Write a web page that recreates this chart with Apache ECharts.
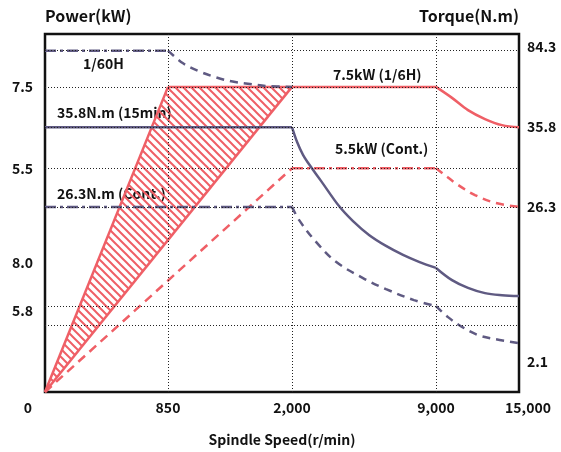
<!DOCTYPE html>
<html>
<head>
<meta charset="utf-8">
<script src="https://cdn.jsdelivr.net/npm/echarts@6.0.0/dist/echarts.min.js"></script>
<style>
html,body{margin:0;padding:0;background:#fff;}
#chart{width:561px;height:452px;}
</style>
</head>
<body>
<div id="chart"></div>
<script>
// ---------------- DATA ----------------
// x axis: spindle speed (r/min), drawn on a schematic (piecewise) scale
const xTickSpeeds = [0, 850, 2000, 9000, 15000];
const xTickLabels = ['0', '850', '2,000', '9,000', '15,000'];

// y axis tick labels (as printed in the original)
const leftTickVals = [7.5, 5.5, 3.17, 1.99];
const leftTickLabels = ['7.5', '5.5', '8.0', '5.8'];
const rightTickVals = [8.48, 6.51, 4.55, 0.74];
const rightTickLabels = ['84.3', '35.8', '26.3', '2.1'];

// dotted reference grid levels
const hGridVals = [8.39, 7.5, 6.51, 5.5, 4.55, 2.12, 1.63];
const vGridSpeeds = [850, 2000, 9000];

// Power curves [speed, level]
const powerMaxRise = [[0, 0], [850, 7.5]];
const powerMaxFlat = [[850, 7.5], [9000, 7.5]];
const powerMaxFall = [[9000, 7.5], [10157, 7.23], [11313, 6.93], [12542, 6.71], [13771, 6.56], [15000, 6.51]];
const powerHatch = [[0, 0], [850, 7.5], [2000, 7.5]];
const powerHatchEdge = [[0, 0], [2000, 7.5]];
const powerContRise = [[0, 0], [2000, 5.5]];
const powerContFlat = [[2000, 5.5], [9000, 5.5]];
const powerContFall = [[9000, 5.5], [9651, 5.33], [10590, 5.09], [11819, 4.84], [13265, 4.65], [15000, 4.55]];

// Torque curves [speed, level]
const torquePeakFlat = [[0, 8.39], [850, 8.39]];
const torquePeakFall = [[850, 8.39], [990, 8.08], [1150, 7.87], [1300, 7.73], [1450, 7.63], [1610, 7.57], [1770, 7.52], [2000, 7.5]];
const torque15Flat = [[0, 6.51], [2000, 6.51]];
const torque15Fall1 = [[2000, 6.51], [2243, 6.15], [2535, 5.83], [2924, 5.53], [3410, 5.19], [4285, 4.57], [4965, 4.20], [5743, 3.86], [6569, 3.59], [7396, 3.37], [8173, 3.20], [9000, 3.05]];
const torque15Fall2 = [[9000, 3.05], [10157, 2.75], [11313, 2.56], [12542, 2.43], [13771, 2.38], [15000, 2.36]];
const torqueContFlat = [[0, 4.55], [2000, 4.55]];
const torqueContFall1 = [[2000, 4.55], [2340, 4.23], [3167, 3.69], [4139, 3.20], [5451, 2.80], [6569, 2.53], [7930, 2.26], [9000, 2.11]];
const torqueContFall2 = [[9000, 2.11], [9867, 1.84], [10880, 1.60], [12036, 1.40], [13265, 1.30], [15000, 1.20]];

// ---------------- LAYOUT / STYLE ----------------
const segWidths = [123, 124, 144, 83]; // drawn widths of the speed intervals
const segStart = [0];
segWidths.forEach((w, i) => segStart.push(segStart[i] + w));
const xAxisMax = segStart[segStart.length - 1];
function toX(rpm) {
  for (let i = 0; i < xTickSpeeds.length - 1; i++) {
    const a = xTickSpeeds[i], b = xTickSpeeds[i + 1];
    if (rpm <= b || i === xTickSpeeds.length - 2) {
      return segStart[i] + (rpm - a) / (b - a) * segWidths[i];
    }
  }
}
const conv = arr => arr.map(p => [toX(p[0]), p[1]]);

const RED = '#ef5f66';
const PURPLE = '#5f5a82';
const FONT = "'Noto Sans CJK KR', 'Noto Sans', sans-serif";
const TXT = '#111';
const DASH = [8, 6];
const DASHDOT = [11, 4, 3, 4];
const FW = 'bold';

// hatch pattern
const hatch = document.createElement('canvas');
hatch.width = 8; hatch.height = 8;
(function () {
  const c = hatch.getContext('2d');
  c.strokeStyle = RED; c.lineWidth = 2; c.lineCap = 'square';
  [-8, 0, 8].forEach(k => { c.beginPath(); c.moveTo(k, 0); c.lineTo(k + 8, 8); c.stroke(); });
})();

function lineSeries(data, color, type, smooth) {
  return {
    type: 'line', data: conv(data), showSymbol: false, symbol: 'none',
    smooth: smooth ? 0.35 : false, z: 4, silent: true,
    lineStyle: { color: color, width: 2.5, type: type, cap: 'butt' }
  };
}

const chart = echarts.init(document.getElementById('chart'), null, { renderer: 'canvas' });

function labelMap(vals, labels) {
  return v => {
    for (let i = 0; i < vals.length; i++) if (Math.abs(vals[i] - v) < 1e-6) return labels[i];
    return '';
  };
}
const xLabelVals = xTickSpeeds.map(toX);

const option = {
  animation: false,
  backgroundColor: '#fff',
  textStyle: { fontFamily: FONT },
  grid: { left: 45, top: 34, width: 474, height: 358, show: true, borderColor: '#111', borderWidth: 2.5, backgroundColor: 'transparent' },
  xAxis: {
    type: 'value', min: 0, max: xAxisMax,
    axisLine: { show: false }, axisTick: { show: false }, splitLine: { show: false },
    axisLabel: {
      customValues: xLabelVals, margin: 9, color: TXT, fontSize: 14, fontFamily: FONT, fontWeight: FW,
      formatter: v => {
        const t = labelMap(xLabelVals, xTickLabels)(v);
        if (v === xLabelVals[0]) return '{l|' + t + '}';
        if (v === xLabelVals[xLabelVals.length - 1]) return '{r|' + t + '}';
        return t;
      },
      rich: {
        l: { padding: [0, 34, 0, 0], fontSize: 14, fontFamily: FONT, fontWeight: FW, color: TXT },
        r: { padding: [0, 0, 0, 18], fontSize: 14, fontFamily: FONT, fontWeight: FW, color: TXT }
      }
    }
  },
  yAxis: [
    {
      type: 'value', min: 0, max: 8.8, position: 'left',
      axisLine: { show: false }, axisTick: { show: false }, splitLine: { show: false },
      axisLabel: { customValues: leftTickVals, formatter: labelMap(leftTickVals, leftTickLabels), margin: 12, color: TXT, fontSize: 14, fontFamily: FONT, fontWeight: FW }
    },
    {
      type: 'value', min: 0, max: 8.8, position: 'right',
      axisLine: { show: false }, axisTick: { show: false }, splitLine: { show: false },
      axisLabel: { customValues: rightTickVals, formatter: labelMap(rightTickVals, rightTickLabels), margin: 8, color: TXT, fontSize: 14, fontFamily: FONT, fontWeight: FW }
    }
  ],
  series: [
    {
      type: 'line', data: [], z: 1, silent: true,
      markLine: {
        silent: true, symbol: 'none', label: { show: false },
        lineStyle: { color: '#222', width: 1, type: [1, 2] },
        data: hGridVals.map(v => ({ yAxis: v })).concat(vGridSpeeds.map(s => ({ xAxis: toX(s) })))
      }
    },
    {
      type: 'custom', z: 2, silent: true,
      data: conv(powerHatch),
      renderItem: function (params, api) {
        if (params.dataIndex !== 0) return null;
        const pts = conv(powerHatch).map(p => api.coord(p));
        return { type: 'polygon', shape: { points: pts }, style: { fill: { image: hatch, repeat: 'repeat' } } };
      }
    },
    lineSeries(powerMaxRise, RED, 'solid', false),
    lineSeries(powerMaxFlat, RED, 'solid', false),
    lineSeries(powerMaxFall, RED, 'solid', true),
    lineSeries(powerHatchEdge, RED, 'solid', false),
    lineSeries(powerContRise, RED, [9, 6], false),
    lineSeries(powerContFlat, RED, DASHDOT, false),
    lineSeries(powerContFall, RED, DASH, true),
    lineSeries(torquePeakFlat, PURPLE, DASHDOT, false),
    lineSeries(torquePeakFall, PURPLE, DASH, true),
    lineSeries(torque15Flat, PURPLE, 'solid', false),
    lineSeries(torque15Fall1, PURPLE, 'solid', true),
    lineSeries(torque15Fall2, PURPLE, 'solid', true),
    lineSeries(torqueContFlat, PURPLE, DASHDOT, false),
    lineSeries(torqueContFall1, PURPLE, DASH, true),
    lineSeries(torqueContFall2, PURPLE, DASH, true)
  ],
  graphic: [
    { type: 'text', left: 45, top: 8, style: { text: 'Power(kW)', font: FW + ' 16px ' + FONT, fill: TXT } },
    { type: 'text', right: 42, top: 8, style: { text: 'Torque(N.m)', font: FW + ' 16px ' + FONT, fill: TXT } },
    { type: 'text', x: 282, y: 440, style: { text: 'Spindle Speed(r/min)', font: FW + ' 14px ' + FONT, fill: TXT, align: 'center', verticalAlign: 'middle' } },
    { type: 'text', x: 83, y: 64, style: { text: '1/60H', font: FW + ' 14px ' + FONT, fill: TXT, verticalAlign: 'middle' } },
    { type: 'text', x: 57, y: 113, style: { text: '35.8N.m (15min)', font: FW + ' 14px ' + FONT, fill: TXT, verticalAlign: 'middle' } },
    { type: 'text', x: 333, y: 75, style: { text: '7.5kW (1/6H)', font: FW + ' 14px ' + FONT, fill: TXT, verticalAlign: 'middle' } },
    { type: 'text', x: 335, y: 149, style: { text: '5.5kW (Cont.)', font: FW + ' 14px ' + FONT, fill: TXT, verticalAlign: 'middle' } },
    { type: 'text', x: 57, y: 194, style: { text: '26.3N.m (Cont.)', font: FW + ' 14px ' + FONT, fill: TXT, verticalAlign: 'middle' } }
  ]
};
chart.setOption(option);
</script>
</body>
</html>
